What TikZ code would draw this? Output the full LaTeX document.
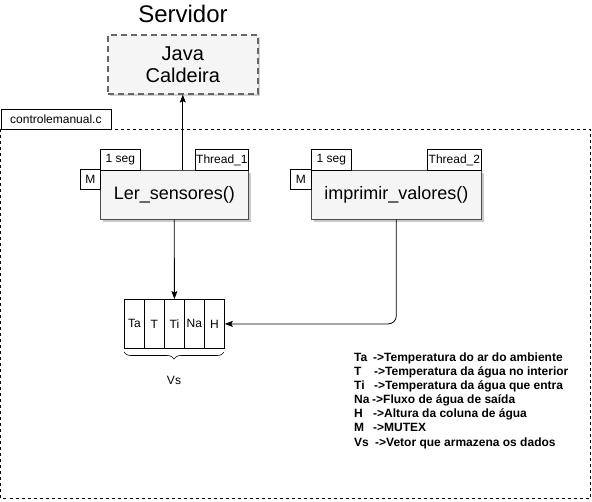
\documentclass[tikz,border=0pt]{standalone}
\usepackage{fontspec}
\setmainfont{Liberation Sans}
\usetikzlibrary{arrows.meta,shadows,decorations.pathreplacing}
\definecolor{boxfill}{HTML}{F5F5F5}
\definecolor{boxline}{HTML}{666666}
\tikzset{
  fs/.style={font=\fontsize{#1}{#1}\selectfont},
  mainbox/.style={draw=black!70, fill=boxfill, line width=0.6pt, anchor=north west, inner sep=0pt,
     drop shadow={shadow xshift=2.5pt, shadow yshift=-2.5pt, fill=black!35, opacity=0.6}, fs=18},
  tag/.style={draw, fill=white, line width=0.8pt, anchor=north west, inner sep=0pt, fs=12},
  cell/.style={draw, line width=0.8pt, minimum width=20pt, minimum height=49pt, inner sep=0pt, anchor=north west, fs=12},
  arr/.style={line width=0.8pt, -{Stealth[length=8pt,width=6pt,inset=1.5pt]}},
}
\begin{document}
\begin{tikzpicture}[x={(1pt,0)}, y={(0,-1pt)}]
\useasboundingbox (0,0) rectangle (592,501);
% server
\node[fs=24] (srv) at (183,14) {Servidor};
\node[draw=boxline, fill=boxfill, line width=1.6pt, dash pattern=on 6pt off 4pt, anchor=north west,
  minimum width=150pt, minimum height=59pt, inner sep=0pt, align=center, fs=20,
  drop shadow={shadow xshift=2pt, shadow yshift=-2pt, fill=black!35, opacity=0.5}]
  (java) at (107,34) {Java\\[2pt]Caldeira};
% container
\draw[line width=0.8pt, dash pattern=on 3pt off 3pt] (0.5,129) rectangle (590,498);
\node[draw, fill=white, line width=0.8pt, anchor=north west, minimum width=110pt, minimum height=20pt, inner sep=0pt, fs=12] (cont) at (0.5,109) {controlemanual.c};
% Ler_sensores
\node[mainbox, minimum width=148pt, minimum height=49pt] (ler) at (100,170) {Ler\_sensores()};
\node[tag, minimum width=40pt, minimum height=21pt] (seg1) at (100,149) {1 seg};
\node[tag, minimum width=53pt, minimum height=21pt] (th1) at (195,149) {Thread\_1};
\node[tag, minimum width=20pt, minimum height=20pt] (m1) at (80,169) {M};
% imprimir_valores
\node[mainbox, minimum width=170pt, minimum height=49pt] (imp) at (311,170) {imprimir\_valores()};
\node[tag, minimum width=40pt, minimum height=21pt] (seg2) at (311,149) {1 seg};
\node[tag, minimum width=54pt, minimum height=21pt] (th2) at (427,149) {Thread\_2};
\node[tag, minimum width=21pt, minimum height=20pt] (m2) at (290,169) {M};
% vector
\node[cell] (ta) at (124,299) {Ta};
\node[cell] (t) at (144,299) {T};
\node[cell] (ti) at (164,299) {Ti};
\node[cell] (na) at (184,299) {Na};
\node[cell] (h) at (204,299) {H};
\draw[line width=0.6pt, decorate, decoration={brace, amplitude=7pt}] (224,352) -- (124,352);
\node[fs=12] (vs) at (174,380) {Vs};
% connectors
\draw[arr] (java.south |- ler.north) -- (java.south);
\draw[arr] (ler.south) -- (ti.north);
\draw[arr, rounded corners=8pt] (imp.south) |- (h.east);
% legend
\node[anchor=north west, inner sep=0pt, align=left, font=\fontsize{12}{14.1}\selectfont\bfseries] (leg) at (354,352.5) {%
\makebox[19pt][l]{Ta}->Temperatura do ar do ambiente\\
\makebox[20pt][l]{T}->Temperatura da água no interior\\
\makebox[20pt][l]{Ti}->Temperatura da água que entra\\
\makebox[18pt][l]{Na}->Fluxo de água de saída\\
\makebox[19pt][l]{H}->Altura da coluna de água\\
\makebox[19pt][l]{M}->MUTEX\\
\makebox[21pt][l]{Vs}->Vetor que armazena os dados};
\end{tikzpicture}
\end{document}
